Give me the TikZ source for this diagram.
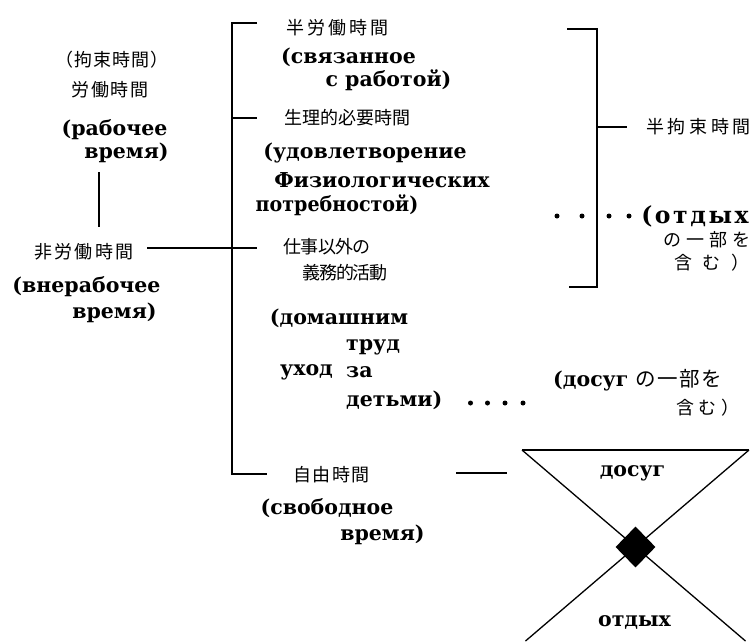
\documentclass[tikz,border=0pt]{standalone}
\usepackage{fontspec}
\setmainfont{DejaVu Serif}
\newfontfamily\jpfont{Noto Sans CJK JP}
\newcommand\JP[2]{{\jpfont\mdseries\addfontfeatures{LetterSpace=#1}#2}}
\usetikzlibrary{shapes.geometric}
\tikzset{
  ru/.style={font=\fontsize{20.5}{24}\selectfont\bfseries, inner sep=0pt},
  jp/.style={font=\fontsize{18}{21}\selectfont\jpfont, inner sep=0pt},
  br/.style={line width=1.6pt},
  hg/.style={line width=1.3pt},
  dot/.style={circle, fill=black, inner sep=0pt, minimum size=5pt},
}
\begin{document}
\begin{tikzpicture}[x=1pt,y=-1pt]
\useasboundingbox (0,0) rectangle (754,641);
\fill[white] (0,0) rectangle (754,641);
% ---------- left column ----------
\node[jp] (kousoku) at (112,60) {\JP{6}{（拘束時間）}};
\node[jp] (roudou) at (110,90) {\JP{10}{労働時間}};
\node[ru] (rab1) at (114.5,130) {(рабочее};
\node[ru] (rab2) at (126.5,153) {время)};
\node[jp] (hiroudou) at (84,252) {\JP{12}{非労働時間}};
\node[ru] (vne1) at (86.5,287) {(внерабочее};
\node[ru] (vne2) at (114.5,313) {время)};
\coordinate (wTop) at (99,172);
\coordinate (wBot) at (99,227);
\draw[br] (wTop) -- (wBot);
% ---------- big bracket ----------
\coordinate (bA) at (257,23);
\coordinate (bB) at (232,23);
\coordinate (bC) at (232,474);
\coordinate (bD) at (267,474);
\coordinate (t2a) at (232,118);
\coordinate (t2b) at (257,118);
\coordinate (t3a) at (147,248);
\coordinate (t3b) at (257,248);
\draw[br] (bA) -- (bB) -- (bC) -- (bD);
\draw[br] (t2a) -- (t2b);
\draw[br] (t3a) -- (t3b);
% ---------- middle column ----------
\node[jp] (hanroudou) at (337.5,28) {\JP{16}{半労働時間}};
\node[ru] (sv1) at (348.5,57) {(связанное};
\node[ru] (sv2) at (388.5,80) {с работой)};
\node[jp] (seiri) at (347,118) {\JP{0}{生理的必要時間}};
\node[ru] (ud1) at (365,153) {(удовлетворение};
\node[ru] (ud2) at (382,180) {Физиологических};
\node[ru] (ud3) at (337,205) {\addfontfeatures{FakeStretch=0.93}потребностой)};
\node[jp] (shigoto) at (327,247) {\JP{-4}{仕事以外の}};
\node[jp] (gimu) at (345,273) {\JP{-8}{義務的活動}};
\node[ru] (dom1) at (339,318) {(домашним};
\node[ru, anchor=west] (dom2) at (346,347) {труд};
\node[ru] (dom3) at (306.5,372) {уход};
\node[ru, anchor=west] (dom4) at (346,372) {за};
\node[ru, anchor=west] (dom5) at (346,400) {детьми)};
\node[jp] (jiyuu) at (331.5,475) {\JP{8}{自由時間}};
\node[ru] (sb1) at (327,508) {(свободное};
\node[ru] (sb2) at (382.5,535) {время)};
\node[dot] (p1) at (470.5,403) {};
\node[dot] (p2) at (487.5,403) {};
\node[dot] (p3) at (505,403) {};
\node[dot] (p4) at (523,403) {};
\coordinate (fA) at (456,473);
\coordinate (fB) at (507,473);
\draw[br] (fA) -- (fB);
% ---------- right bracket ----------
\coordinate (rA) at (567,29);
\coordinate (rB) at (597,29);
\coordinate (rC) at (597,287);
\coordinate (rD) at (569,287);
\coordinate (rT1) at (597,127);
\coordinate (rT2) at (627,127);
\draw[br] (rA) -- (rB) -- (rC) -- (rD);
\draw[br] (rT1) -- (rT2);
\node[jp] (hankousoku) at (698.5,127) {\JP{20}{半拘束時間}};
\node[dot] (q1) at (557,216) {};
\node[dot] (q2) at (582,216) {};
\node[dot] (q3) at (609,216) {};
\node[dot] (q4) at (629,216) {};
\node[ru, font=\fontsize{23.5}{26}\selectfont\bfseries\addfontfeatures{LetterSpace=11}] (ot1) at (695,216) {(отдых};
\node[jp] (ichibu1) at (707,240) {\JP{26}{の一部を}};
\node[jp, anchor=west] (fukumu1) at (674,263) {\JP{60}{含む）}};
\node[ru, anchor=west] (dosugA) at (553,380) {(досуг \JP{8}{の一部を}};
\node[jp, anchor=west] (fukumu2) at (676,408) {\JP{25}{含む）}};
% ---------- hourglass ----------
\coordinate (hL) at (522,450);
\coordinate (hR) at (749,450);
\coordinate (hBL) at (525.5,641);
\coordinate (hBR) at (745.5,641);
\draw[hg] (hL) -- (hR);
\draw[hg] (hL) -- (hBR);
\draw[hg] (hR) -- (hBL);
\node[diamond, fill=black, inner sep=0pt, minimum width=40pt, minimum height=41pt] (cross) at (635.5,547) {};
\node[ru] (dosug) at (632.5,473) {досуг};
\node[ru] (otdyh) at (634.5,622) {отдых};
\end{tikzpicture}
\end{document}
